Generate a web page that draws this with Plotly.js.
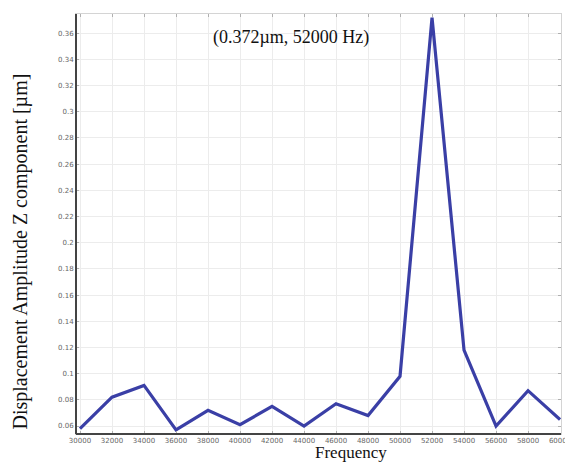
<!DOCTYPE html>
<html>
<head>
<meta charset="utf-8">
<script src="https://cdn.plot.ly/plotly-3.0.1.min.js"></script>
<style>
html,body{margin:0;padding:0;background:#fff;}
#chart{width:565px;height:464px;}
</style>
</head>
<body>
<div id="chart"></div>
<script>
var frequency = [30000, 32000, 34000, 36000, 38000, 40000, 42000, 44000, 46000, 48000, 50000, 52000, 54000, 56000, 58000, 60000];
var amplitude = [0.058, 0.082, 0.091, 0.057, 0.072, 0.061, 0.075, 0.060, 0.077, 0.068, 0.098, 0.372, 0.118, 0.060, 0.087, 0.065];
var peakLabel = "(0.372\u00b5m, 52000 Hz)";
var xTitle = "Frequency";
var yTitle = "Displacement Amplitude Z component [\u00b5m]";

var serif = "Liberation Serif, Times New Roman, serif";

var trace = {
  x: frequency,
  y: amplitude,
  type: "scatter",
  mode: "lines",
  line: {color: "#3a3fa6", width: 3.2},
  hoverinfo: "none"
};

var layout = {
  width: 565,
  height: 464,
  margin: {l: 76, r: 4, t: 14, b: 30},
  paper_bgcolor: "#ffffff",
  plot_bgcolor: "#ffffff",
  showlegend: false,
  xaxis: {
    range: [29750, 60060],
    dtick: 2000,
    tick0: 30000,
    tickformat: "d",
    ticklabeloverflow: "allow",
    showgrid: true,
    gridcolor: "#ececec",
    gridwidth: 1,
    zeroline: false,
    showline: true,
    linecolor: "#d4d4d4",
    linewidth: 1,
    mirror: "ticks",
    ticks: "inside",
    ticklen: 3,
    tickcolor: "#b0b0b0",
    tickfont: {family: "DejaVu Sans, sans-serif", size: 7, color: "#666"},
    title: {text: ""}
  },
  yaxis: {
    range: [0.0539, 0.3747],
    dtick: 0.02,
    tick0: 0,
    showgrid: true,
    gridcolor: "#ececec",
    gridwidth: 1,
    zeroline: false,
    showline: true,
    linecolor: "#d4d4d4",
    linewidth: 1,
    mirror: "ticks",
    ticks: "inside",
    ticklen: 3,
    tickcolor: "#b0b0b0",
    tickfont: {family: "DejaVu Sans, sans-serif", size: 7, color: "#666"},
    title: {text: ""}
  },
  shapes: [
    {type: "line", xref: "paper", yref: "paper", x0: 0, x1: 0, y0: 0, y1: 1,
     line: {color: "#444", width: 2}},
    {type: "line", xref: "paper", yref: "paper", x0: 0, x1: 1, y0: 0, y1: 0,
     line: {color: "#444", width: 2}}
  ],
  annotations: [
    {text: peakLabel, xref: "paper", yref: "paper", x: 0.443, y: 0.945,
     xanchor: "center", yanchor: "middle", showarrow: false,
     font: {family: serif, size: 18, color: "#111"}},
    {text: xTitle, xref: "paper", yref: "paper", x: 0.566, y: -0.045,
     xanchor: "center", yanchor: "middle", showarrow: false,
     font: {family: serif, size: 17, color: "#111"}},
    {text: yTitle, xref: "paper", yref: "paper", x: -0.115, y: 0.435,
     xanchor: "center", yanchor: "middle", showarrow: false, textangle: -90,
     font: {family: serif, size: 20, color: "#111"}}
  ]
};

Plotly.newPlot("chart", [trace], layout, {staticPlot: true, displayModeBar: false});
</script>
</body>
</html>
